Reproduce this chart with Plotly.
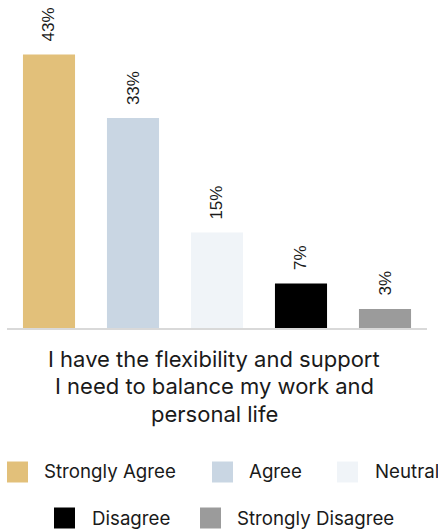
import plotly.graph_objects as go

categories = ["Strongly Agree", "Agree", "Neutral", "Disagree", "Strongly Disagree"]
values = [43, 33, 15, 7, 3]
labels = ["43%", "33%", "15%", "7%", "3%"]
colors = ["#E2C07A", "#C9D6E3", "#F0F4F8", "#000000", "#9B9B9B"]
title_lines = ["I have the flexibility and support", "I need to balance my work and", "personal life"]

W, H = 438, 531
ML, MR, MT, MB = 7, 11, 10, 203
PH = H - MT - MB
PW = W - ML - MR

def py(pix):
    return (H - MB - pix) / PH

def px(pix):
    return (pix - ML) / PW

fig = go.Figure()
fig.add_trace(go.Bar(
    x=categories, y=values, marker=dict(color=colors, line=dict(width=0)),
    width=0.62, showlegend=False, hoverinfo="skip",
))

annotations = []
for c, v, t in zip(categories, values, labels):
    annotations.append(dict(
        x=c, y=v, xref="x", yref="y", text=t, showarrow=False, textangle=-90,
        yanchor="bottom", xanchor="center", yshift=11,
        font=dict(family="Liberation Sans, Arial", size=17, color="#1a1a1a"),
    ))

title_y = [359, 386, 414]
for line, yy in zip(title_lines, title_y):
    annotations.append(dict(
        x=px(214), y=py(yy), xref="paper", yref="paper", text=line, showarrow=False,
        xanchor="center", yanchor="middle",
        font=dict(family="Inter", size=22, color="#1a1a1a"),
    ))

legend_items = [
    (0, 7, 42, 472), (1, 212, 247, 472), (2, 337, 373, 472),
    (3, 54, 90, 518), (4, 200, 235, 518),
]
shapes = []
for i, sx, tx, cy in legend_items:
    shapes.append(dict(
        type="rect", xref="paper", yref="paper",
        x0=px(sx), x1=px(sx + 21), y0=py(cy - 10.5), y1=py(cy + 10.5),
        fillcolor=colors[i], line=dict(width=0),
    ))
    annotations.append(dict(
        x=px(tx), y=py(cy), xref="paper", yref="paper", text=categories[i], showarrow=False,
        xanchor="left", yanchor="middle",
        font=dict(family="Inter", size=18.7, color="#1a1a1a"),
    ))

fig.update_layout(
    width=W, height=H, margin=dict(l=ML, r=MR, t=MT, b=MB),
    paper_bgcolor="white", plot_bgcolor="white",
    xaxis=dict(showticklabels=False, showline=True, linecolor="#D9D9D9", linewidth=2,
               ticks="", showgrid=False, zeroline=False),
    yaxis=dict(range=[0, 50], visible=False, showgrid=False, zeroline=False),
    annotations=annotations, shapes=shapes,
)

fig.write_html("out.html", config={"displayModeBar": False},
               post_script="document.body.style.margin='0';document.body.style.overflow='hidden';")
